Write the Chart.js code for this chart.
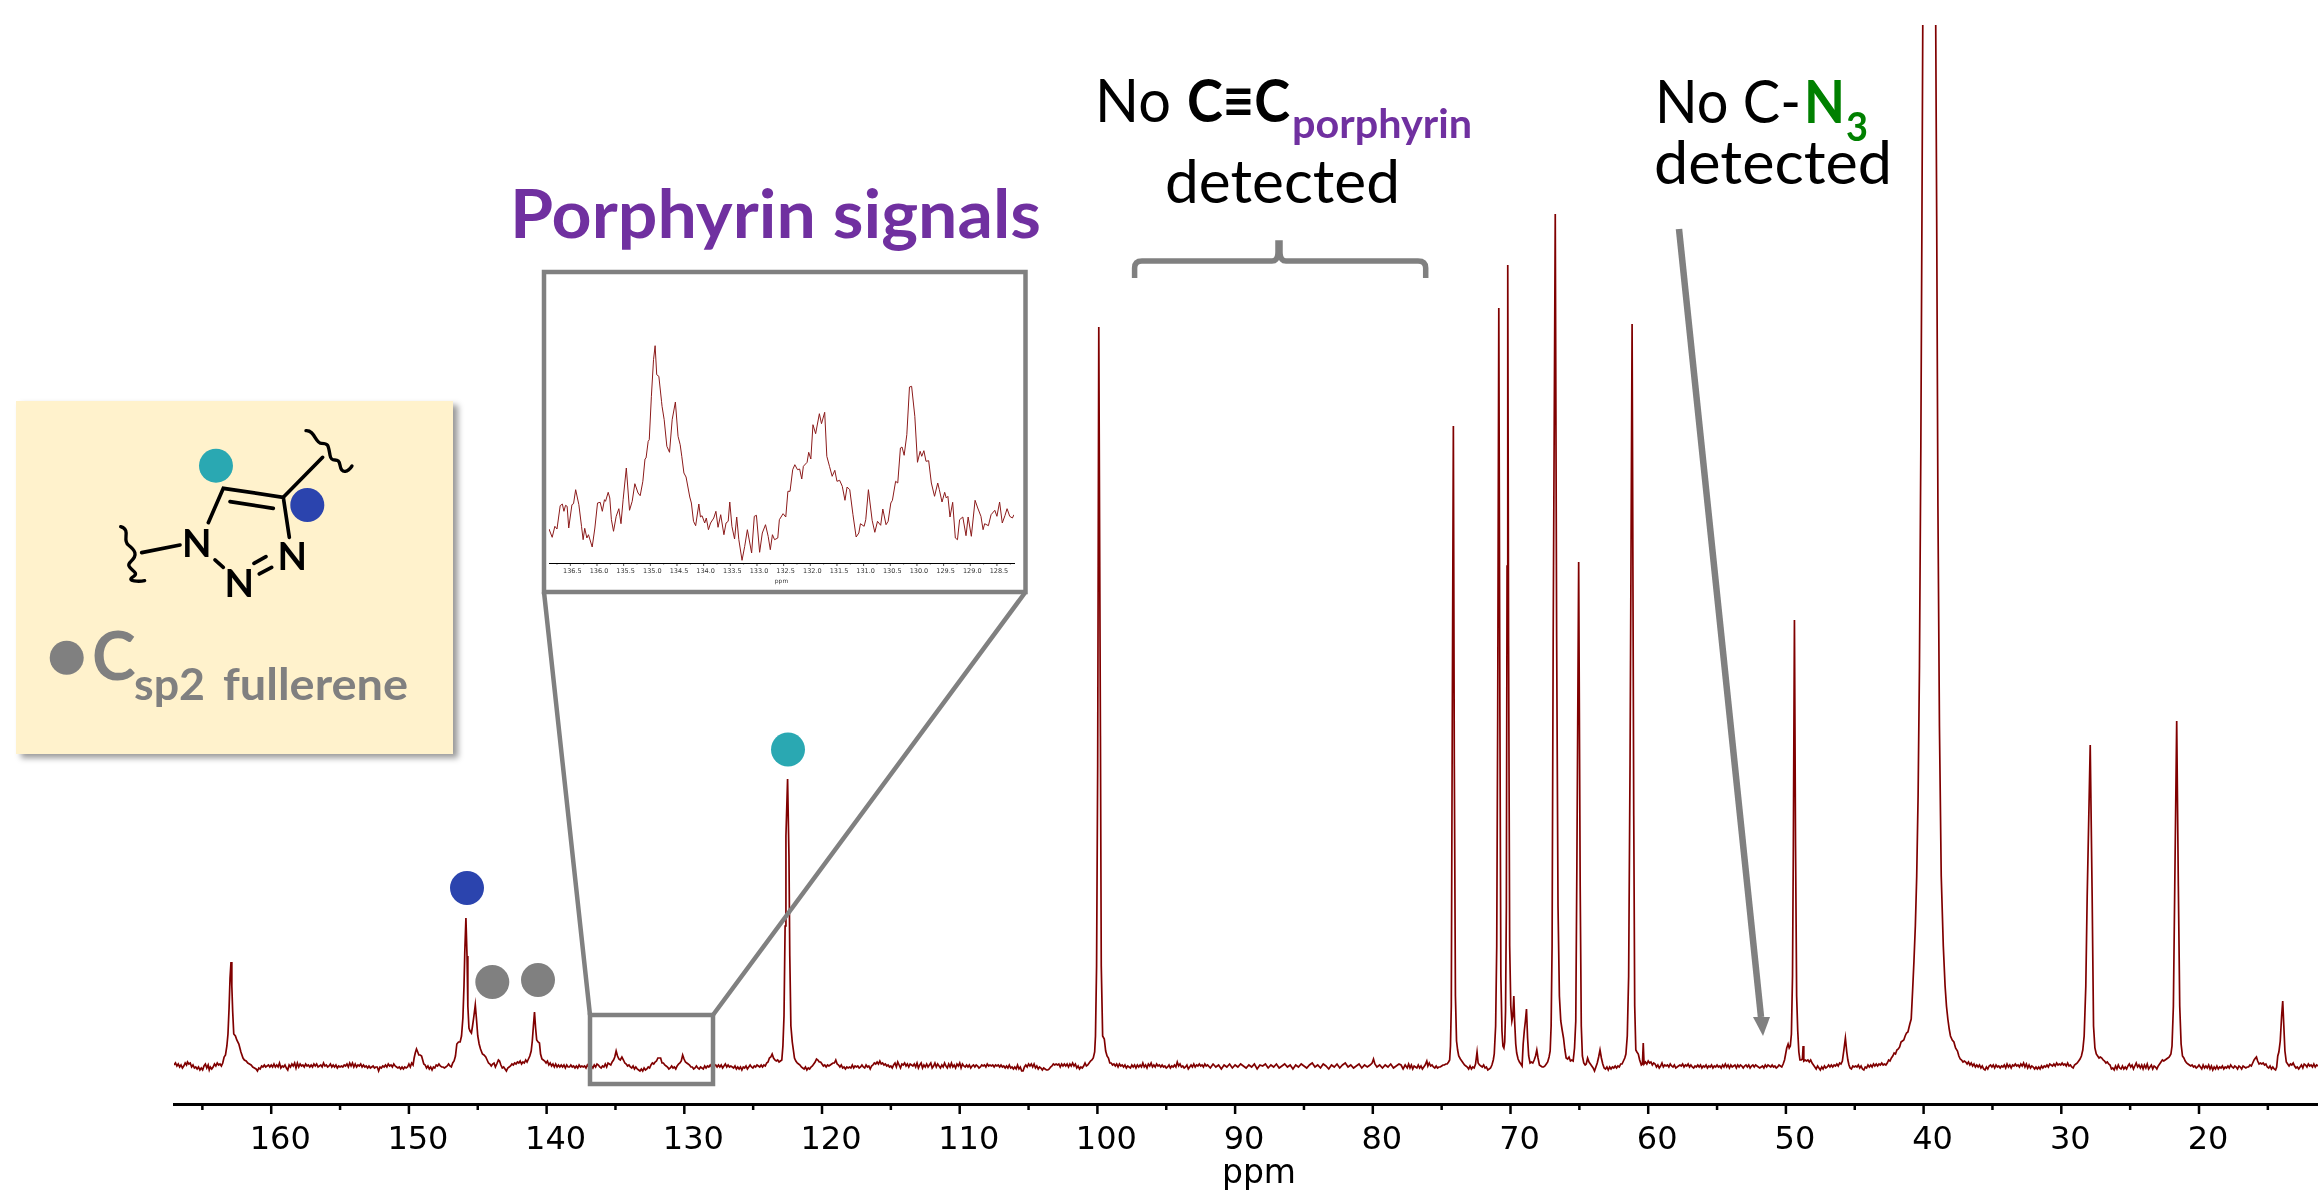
<!DOCTYPE html>
<html lang="en">
<head>
  <meta charset="UTF-8" />
  <title>13C NMR spectrum</title>
  <style>
    html, body { margin: 0; padding: 0; background: #fff; width: 2318px; height: 1194px; overflow: hidden; }
    #main { position: absolute; left: 0; top: 0; }
    #inset { position: absolute; left: 546px; top: 275px; }
    #notes { position: absolute; left: 0; top: 0; }
    #notes text { font-family: Lato, sans-serif; }
    #card { position: absolute; left: 16px; top: 401px; width: 437px; height: 353px; background: #fff2cc; box-shadow: 5px 4px 6px #9a9a9a; }
  </style>
  <script src="https://cdn.jsdelivr.net/npm/chart.js"></script>
</head>
<body>
  <div id="card"></div>
  <canvas id="main" width="2344" height="1194"></canvas>
  <svg id="notes" width="2318" height="1194" xmlns="http://www.w3.org/2000/svg">
    <!-- zoom box and its leaders -->
    <g fill="none" stroke="#808080">
      <rect x="544" y="272" width="481.5" height="320" stroke-width="4.5"/>
      <rect x="590" y="1015" width="123" height="69" stroke-width="4.5"/>
      <path d="M590 1015 L544 592 M713 1015 L1025.5 592" stroke-width="4.5"/>
      <path d="M1134.6 278 V268 Q1134.6 261 1142 261 H1272 Q1278 261 1278 252 V243 H1280 V252 Q1280 261 1286 261 H1418 Q1425.7 261 1425.7 268 V278" stroke-width="5.5"/>
      <path d="M1679 229 L1761 1017" stroke-width="6.5"/>
    </g>
    <path d="M1753 1017 L1770 1017 L1763 1036 Z" fill="#808080"/>
    <!-- peak markers -->
    <circle cx="467" cy="888" r="17" fill="#2b44ae"/>
    <circle cx="492.3" cy="982" r="17" fill="#808080"/>
    <circle cx="538" cy="980" r="17" fill="#808080"/>
    <circle cx="788" cy="749.5" r="17" fill="#2aa8b2"/>
    <!-- triazole sketch -->
    <g transform="translate(0,380) scale(0.3333)">
      <circle cx="648" cy="257" r="51" fill="#2aa8b2"/>
      <circle cx="922" cy="375" r="51" fill="#2b44ae"/>
      <g fill="none" stroke="#000" stroke-width="11" stroke-linecap="round">
        <path d="M625 428 L670 325 L850 352 L868 472"/>
        <path d="M690 365 L820 385"/>
        <path d="M645 540 L670 562"/>
        <path d="M762 550 L798 530 M778 582 L815 562"/>
        <path d="M425 518 L540 495"/>
        <path d="M850 352 L968 232"/>
        <path d="M362 440 C395 450 365 480 385 495 S415 525 392 545 S425 575 400 590 S420 605 434 602" stroke-width="10"/>
        <path d="M918 152 C945 150 945 190 965 190 S985 195 990 225 S1015 225 1020 255 S1045 275 1056 258" stroke-width="10"/>
      </g>
      <g font-size="115" font-weight="700" text-anchor="middle" fill="#000">
        <text x="590" y="530">N</text>
        <text x="718" y="652">N</text>
        <text x="877" y="570">N</text>
      </g>
    </g>
    <circle cx="66.7" cy="657.7" r="17" fill="#808080"/>
    <text x="92" y="680" font-size="66" font-weight="700" fill="#808080">C</text>
    <text x="134" y="700" font-size="43" font-weight="700" fill="#808080" textLength="71" lengthAdjust="spacingAndGlyphs">sp2</text>
    <text x="223" y="700" font-size="43" font-weight="700" fill="#808080" textLength="185" lengthAdjust="spacingAndGlyphs">fullerene</text>
    <!-- annotations -->
    <text x="510" y="238" font-size="66" font-weight="700" fill="#7030a0" textLength="531" lengthAdjust="spacingAndGlyphs">Porphyrin signals</text>
    <text x="1095" y="122" font-size="60" fill="#000" textLength="76" lengthAdjust="spacingAndGlyphs">No</text>
    <text x="1187" y="122" font-size="60" font-weight="700" fill="#000" textLength="103" lengthAdjust="spacingAndGlyphs">C≡C</text>
    <text x="1292" y="138" font-size="40" font-weight="700" fill="#7030a0" textLength="180" lengthAdjust="spacingAndGlyphs">porphyrin</text>
    <text x="1165" y="203" font-size="60" fill="#000" textLength="235" lengthAdjust="spacingAndGlyphs">detected</text>
    <text x="1655" y="123" font-size="60" fill="#000" textLength="146" lengthAdjust="spacingAndGlyphs">No C-</text>
    <text x="1804" y="123" font-size="60" font-weight="700" fill="#008000" textLength="41" lengthAdjust="spacingAndGlyphs">N</text>
    <text x="1846" y="141" font-size="40" font-weight="700" fill="#008000" textLength="22" lengthAdjust="spacingAndGlyphs">3</text>
    <text x="1654" y="184" font-size="60" fill="#000" textLength="238" lengthAdjust="spacingAndGlyphs">detected</text>
  </svg>
  <canvas id="inset" width="478" height="315"></canvas>

  <script>
    // [ppm, height above baseline]
    const band167to147 = [[167.06,1],[166.95,3],[166.85,0],[166.75,2],[166.65,-1],[166.55,1],[166.45,-2],[166.35,0],[166.25,3],[166.15,1],[166.08,4],[165.98,2],[165.88,3],[165.78,-1],[165.68,1],[165.58,-2],[165.48,-1],[165.38,-3],[165.28,-1],[165.18,-4],[165.08,-2],[164.98,-4],[164.88,0],[164.78,2],[164.68,-2],[164.58,1],[164.5,-4],[164.42,-1],[164.32,-3],[164.22,-1],[164.12,2],[164.02,0],[163.92,3],[163.82,1],[163.72,2],[163.62,0],[163.52,3],[163.42,9],[163.32,11],[163.22,20],[163.14,32],[163.06,58],[162.99,88],[162.92,104],[162.86,80],[162.8,55],[162.72,32],[162.6,30],[162.5,26],[162.35,22],[162.2,14],[162.05,8],[161.95,6],[161.82,5],[161.7,3],[161.58,2],[161.46,1],[161.34,-1],[161.22,-2],[161.1,-3],[161.0,-5],[160.9,-2],[160.8,-3],[160.7,0],[160.6,-1],[160.5,1],[160.4,-1],[160.3,0],[160.2,1],[160.1,-1],[160.0,1],[159.9,-1],[159.8,2],[159.7,-1],[159.6,1],[159.5,-1],[159.4,3],[159.3,-2],[159.2,0],[159.1,-1],[159.0,1],[158.9,-2],[158.8,-4],[158.7,1],[158.6,-1],[158.5,2],[158.4,0],[158.3,3],[158.2,-2],[158.1,3],[158.0,-1],[157.9,2],[157.8,0],[157.7,1],[157.6,-1],[157.5,2],[157.4,0],[157.3,1],[157.2,-1],[157.1,1],[157.0,-1],[156.9,2],[156.8,0],[156.7,2],[156.6,-1],[156.5,0],[156.4,1],[156.3,-1],[156.2,3],[156.1,0],[156.0,1],[155.9,-1],[155.8,0],[155.7,2],[155.6,-1],[155.5,1],[155.4,-1],[155.3,1],[155.2,-2],[155.1,0],[155.0,-1],[154.9,0],[154.8,-1],[154.7,1],[154.6,0],[154.5,2],[154.4,-1],[154.3,3],[154.2,0],[154.1,3],[154.0,-1],[153.9,2],[153.8,-1],[153.7,1],[153.6,0],[153.5,2],[153.4,-1],[153.3,1],[153.2,-1],[153.1,0],[153.0,-2],[152.9,0],[152.8,-2],[152.7,-1],[152.6,0],[152.5,-2],[152.4,-1],[152.3,-1],[152.2,-5],[152.1,-1],[152.0,-2],[151.9,0],[151.8,-1],[151.7,1],[151.6,-1],[151.5,2],[151.4,0],[151.3,1],[151.2,-1],[151.1,2],[151.0,0],[150.9,-1],[150.8,-2],[150.7,-1],[150.6,-3],[150.5,-1],[150.4,-3],[150.3,-1],[150.2,-2],[150.1,-1],[150.0,2],[149.9,-1],[149.8,3],[149.7,1],[149.62,8],[149.54,13],[149.45,17],[149.36,14],[149.28,11],[149.18,11],[149.08,10],[149.0,6],[148.92,2],[148.82,1],[148.72,-2],[148.62,0],[148.52,-3],[148.42,-1],[148.32,-4],[148.22,-1],[148.12,-2],[148.02,1],[147.92,0],[147.82,2],[147.72,0],[147.62,-1],[147.52,-1]];
    const band147to128 = [[147.42,-2],[147.32,-1],[147.22,0],[147.12,2],[147.02,0],[146.92,-1],[146.82,3],[146.72,5],[146.62,10],[146.52,22],[146.4,24],[146.28,24],[146.18,30],[146.08,48],[146.0,80],[145.94,115],[145.86,148],[145.78,110],[145.72,60],[145.64,38],[145.56,35],[145.46,33],[145.38,40],[145.28,50],[145.18,61],[145.1,48],[145.0,30],[144.9,22],[144.8,17],[144.66,12],[144.55,11],[144.42,9],[144.32,6],[144.22,3],[144.12,2],[144.02,0],[143.92,2],[143.82,3],[143.72,-1],[143.62,2],[143.5,6],[143.42,5],[143.32,1],[143.22,-2],[143.12,-1],[143.02,-3],[142.92,-5],[142.82,-2],[142.72,-1],[142.62,0],[142.52,2],[142.42,1],[142.32,3],[142.22,2],[142.12,4],[142.02,3],[141.92,5],[141.82,2],[141.72,4],[141.62,3],[141.52,6],[141.42,4],[141.32,7],[141.22,10],[141.12,15],[141.04,25],[140.96,40],[140.88,54],[140.8,38],[140.72,26],[140.62,24],[140.52,23],[140.44,12],[140.34,7],[140.24,6],[140.14,5],[140.04,3],[139.94,5],[139.84,1],[139.74,3],[139.64,0],[139.54,2],[139.44,-1],[139.34,2],[139.24,-1],[139.14,1],[139.04,-1],[138.94,1],[138.84,-1],[138.74,1],[138.64,-2],[138.54,1],[138.44,-1],[138.34,-1],[138.24,1],[138.14,-1],[138.04,0],[137.94,-2],[137.84,0],[137.74,-2],[137.64,1],[137.54,-1],[137.44,0],[137.34,-1],[137.24,0],[137.14,-2],[137.04,1],[136.94,-1],[136.84,-2],[136.74,0],[136.64,-2],[136.54,1],[136.44,-1],[136.34,2],[136.24,1],[136.14,-1],[136.04,-2],[135.94,0],[135.84,-1],[135.74,2],[135.64,-1],[135.54,3],[135.44,2],[135.34,1],[135.24,4],[135.14,6],[135.05,9],[134.95,15],[134.85,10],[134.75,7],[134.65,6],[134.53,9],[134.42,6],[134.32,3],[134.22,2],[134.12,0],[134.02,1],[133.92,-1],[133.82,-2],[133.72,0],[133.62,-3],[133.52,-1],[133.42,-3],[133.32,-4],[133.22,-5],[133.12,-3],[133.02,-5],[132.92,-2],[132.82,-4],[132.72,-3],[132.62,-1],[132.52,-2],[132.42,1],[132.32,3],[132.22,2],[132.12,4],[132.02,5],[131.92,8],[131.82,8],[131.72,8],[131.62,3],[131.52,3],[131.42,1],[131.32,0],[131.22,-1],[131.12,-3],[131.02,-2],[130.92,0],[130.82,-2],[130.72,-1],[130.62,-3],[130.52,0],[130.42,2],[130.32,3],[130.22,5],[130.12,11],[130.02,7],[129.92,4],[129.82,3],[129.72,2],[129.62,1],[129.52,-1],[129.42,-1],[129.32,-3],[129.22,-2],[129.12,0],[129.02,-2],[128.92,-3],[128.82,-1],[128.72,-2],[128.62,-3],[128.52,0],[128.42,-2],[128.32,0],[128.22,-1],[128.12,1],[128.02,-1]];
    const band128to100 = [[127.92,-2],[127.82,0],[127.72,1],[127.62,-1],[127.52,1],[127.42,-1],[127.32,1],[127.22,-2],[127.12,0],[127.02,2],[126.92,-1],[126.82,1],[126.72,-1],[126.62,0],[126.52,-1],[126.42,-2],[126.32,0],[126.22,-3],[126.12,-1],[126.02,-3],[125.92,-1],[125.82,-4],[125.72,-1],[125.62,-2],[125.52,0],[125.42,-3],[125.32,-1],[125.22,1],[125.12,-1],[125.02,-2],[124.92,0],[124.82,-1],[124.72,1],[124.62,0],[124.52,-1],[124.42,1],[124.32,-1],[124.22,1],[124.12,0],[124.02,3],[123.92,4],[123.82,8],[123.72,9],[123.62,12],[123.52,8],[123.42,6],[123.32,5],[123.22,6],[123.12,4],[123.02,5],[122.92,6],[122.84,20],[122.76,50],[122.68,140],[122.62,230],[122.5,287],[122.4,210],[122.34,110],[122.26,40],[122.16,24],[122.08,16],[122.0,8],[121.9,5],[121.8,3],[121.7,2],[121.6,1],[121.5,-1],[121.4,-2],[121.3,-3],[121.2,-1],[121.1,-4],[121.0,-2],[120.9,-3],[120.8,-1],[120.7,0],[120.6,2],[120.5,4],[120.4,7],[120.3,6],[120.2,4],[120.1,4],[120.0,2],[119.9,0],[119.8,1],[119.7,-1],[119.6,1],[119.5,0],[119.4,1],[119.3,2],[119.2,3],[119.1,3],[119.0,6],[118.9,2],[118.8,1],[118.7,-1],[118.6,1],[118.5,-2],[118.4,-1],[118.3,-3],[118.2,-1],[118.1,-2],[118.0,-1],[117.9,-2],[117.8,1],[117.7,-2],[117.6,0],[117.5,-1],[117.4,0],[117.3,-2],[117.2,-1],[117.1,1],[117.0,-1],[116.9,-2],[116.8,1],[116.7,-1],[116.6,0],[116.5,-3],[116.4,0],[116.3,1],[116.2,3],[116.1,2],[116.0,4],[115.9,2],[115.8,5],[115.7,2],[115.6,3],[115.5,1],[115.4,2],[115.3,0],[115.2,1],[115.1,-1],[115.0,0],[114.9,-2],[114.8,1],[114.7,3],[114.6,-1],[114.5,4],[114.4,1],[114.3,-2],[114.2,2],[114.1,1],[114.0,3],[113.9,0],[113.8,2],[113.7,-1],[113.6,2],[113.5,1],[113.4,0],[113.3,2],[113.2,-1],[113.1,3],[113.0,-2],[112.9,1],[112.8,3],[112.7,-2],[112.6,1],[112.5,-1],[112.4,2],[112.3,-1],[112.2,1],[112.1,3],[112.0,-2],[111.9,0],[111.8,3],[111.7,-1],[111.6,2],[111.5,0],[111.4,-2],[111.3,1],[111.2,-1],[111.1,3],[111.0,0],[110.9,-2],[110.8,2],[110.7,-1],[110.6,3],[110.5,-1],[110.4,1],[110.3,-2],[110.2,2],[110.1,0],[110.0,3],[109.9,-2],[109.8,2],[109.7,0],[109.6,-1],[109.5,1],[109.4,-1],[109.3,1],[109.2,-2],[109.1,0],[109.0,1],[108.9,-1],[108.8,1],[108.7,0],[108.6,-2],[108.5,-1],[108.4,1],[108.3,0],[108.2,1],[108.1,-1],[108.0,2],[107.9,0],[107.8,1],[107.7,0],[107.6,1],[107.5,-1],[107.4,1],[107.3,0],[107.2,1],[107.1,-1],[107.0,1],[106.9,-1],[106.8,0],[106.7,-2],[106.6,0],[106.5,-2],[106.4,1],[106.3,-2],[106.2,-1],[106.1,-3],[106.0,-1],[105.9,-3],[105.8,1],[105.7,-3],[105.6,-1],[105.5,-5],[105.4,-5],[105.3,-1],[105.2,1],[105.1,-1],[105.0,2],[104.9,0],[104.8,2],[104.7,-1],[104.6,2],[104.5,-2],[104.4,0],[104.3,-3],[104.2,-1],[104.1,-2],[104.0,-4],[103.9,-2],[103.8,-3],[103.7,-4],[103.6,-4],[103.5,-3],[103.4,-1],[103.3,0],[103.2,2],[103.1,1],[103.0,2],[102.9,1],[102.8,2],[102.7,-1],[102.6,2],[102.5,0],[102.4,2],[102.3,0],[102.2,2],[102.1,-1],[102.0,2],[101.9,0],[101.8,3],[101.7,0],[101.6,2],[101.5,-2],[101.4,0],[101.3,-3],[101.2,-1],[101.1,-2],[101.0,0],[100.9,3],[100.8,0],[100.7,1],[100.6,3],[100.5,5],[100.4,6],[100.3,8],[100.2,14],[100.14,30],[100.06,100],[99.98,300],[99.9,739],[99.78,330],[99.72,100],[99.62,30],[99.5,27],[99.4,15],[99.3,10],[99.2,8],[99.1,3],[99.0,3],[98.9,1],[98.8,2],[98.7,0]];
    const band100to76 = [[98.6,2],[98.5,-1],[98.4,2],[98.3,0],[98.2,1],[98.1,-1],[98.0,1],[97.9,-2],[97.8,0],[97.7,-1],[97.6,-2],[97.5,1],[97.4,-1],[97.3,1],[97.2,-2],[97.1,1],[97.0,-1],[96.9,1],[96.8,-1],[96.7,3],[96.6,-1],[96.5,1],[96.4,-2],[96.3,2],[96.2,0],[96.1,3],[96.0,-1],[95.9,1],[95.8,-1],[95.7,2],[95.6,0],[95.5,1],[95.4,-1],[95.3,1],[95.2,-1],[95.1,0],[95.0,-2],[94.9,-1],[94.8,1],[94.7,-2],[94.6,0],[94.5,-1],[94.4,1],[94.3,-1],[94.2,4],[94.1,0],[94.0,2],[93.9,-1],[93.8,0],[93.7,-2],[93.6,-1],[93.5,1],[93.4,-3],[93.3,-1],[93.2,1],[93.1,-1],[93.0,2],[92.9,-1],[92.8,1],[92.7,0],[92.6,2],[92.5,0],[92.4,1],[92.3,-1],[92.2,2],[92.1,0],[92.0,1],[91.8,-2],[91.6,2],[91.4,-1],[91.2,1],[91.0,-3],[90.8,1],[90.6,-1],[90.4,2],[90.2,-2],[90.0,1],[89.8,-1],[89.6,2],[89.4,0],[89.2,-2],[89.0,1],[88.8,-1],[88.6,2],[88.4,-3],[88.2,1],[88.0,0],[87.8,2],[87.6,-2],[87.4,1],[87.2,-1],[87.0,2],[86.8,-2],[86.6,0],[86.4,2],[86.2,-1],[86.0,1],[85.8,-3],[85.6,1],[85.4,-1],[85.2,2],[85.0,0],[84.8,-2],[84.6,1],[84.4,3],[84.2,-1],[84.0,1],[83.8,-2],[83.6,2],[83.4,0],[83.2,-3],[83.0,1],[82.8,-1],[82.6,2],[82.4,-2],[82.2,1],[82.0,3],[81.8,-1],[81.6,1],[81.4,-2],[81.2,0],[81.0,2],[80.8,-2],[80.6,1],[80.4,-1],[80.2,1],[80.05,3],[79.95,7],[79.85,2],[79.7,-1],[79.5,1],[79.3,-2],[79.1,1],[78.9,-1],[78.7,2],[78.5,-2],[78.3,0],[78.1,2],[77.95,1],[77.8,-3],[77.65,1],[77.5,-2],[77.4,2],[77.3,-2],[77.2,1],[77.1,-3],[77.0,0],[76.9,-1],[76.8,-2],[76.7,1],[76.6,-2],[76.5,0],[76.4,-3],[76.3,-1],[76.2,1],[76.08,5],[76.0,0],[75.9,3],[75.8,0],[75.7,1],[75.6,-1]];
    const band76to60 = [[75.5,-2],[75.4,0],[75.3,-2],[75.2,-1],[75.1,-1],[75.0,0],[74.9,1],[74.8,1],[74.7,2],[74.6,2],[74.5,4],[74.42,6],[74.36,20],[74.3,60],[74.24,300],[74.15,640],[74.08,300],[74.0,70],[73.92,25],[73.84,16],[73.76,10],[73.64,7],[73.54,5],[73.44,3],[73.34,1],[73.24,0],[73.14,-1],[73.04,-3],[72.94,0],[72.84,-3],[72.74,-1],[72.64,-2],[72.54,2],[72.43,14],[72.35,3],[72.25,1],[72.15,0],[72.05,-1],[71.95,1],[71.85,-2],[71.75,-1],[71.65,-4],[71.55,-3],[71.45,-2],[71.35,1],[71.25,6],[71.18,12],[71.08,40],[71.0,120],[70.93,350],[70.85,758],[70.77,350],[70.7,90],[70.62,35],[70.55,20],[70.48,18],[70.42,24],[70.36,55],[70.3,160],[70.25,500],[70.2,801],[70.14,420],[70.06,120],[69.98,60],[69.9,45],[69.83,50],[69.76,70],[69.7,45],[69.62,22],[69.55,13],[69.45,7],[69.35,4],[69.25,2],[69.16,0],[69.08,22],[69.0,35],[68.92,45],[68.84,57],[68.76,28],[68.68,10],[68.58,3],[68.48,4],[68.38,3],[68.28,6],[68.18,10],[68.09,16],[68.0,8],[67.9,1],[67.8,0],[67.7,-1],[67.6,-1],[67.5,0],[67.4,2],[67.3,4],[67.2,9],[67.12,15],[67.05,40],[66.98,120],[66.9,430],[66.75,852],[66.65,430],[66.55,160],[66.45,70],[66.35,45],[66.25,36],[66.15,28],[66.05,16],[65.96,8],[65.85,7],[65.75,9],[65.65,5],[65.55,6],[65.45,5],[65.35,18],[65.26,45],[65.18,200],[65.05,504],[64.94,180],[64.86,40],[64.78,10],[64.68,3],[64.58,1],[64.5,2],[64.4,8],[64.3,4],[64.2,2],[64.1,0],[64.0,-2],[63.9,-5],[63.8,-1],[63.7,3],[63.6,9],[63.5,16],[63.4,8],[63.3,2],[63.2,-2],[63.1,-3],[63.0,-1],[62.9,-4],[62.8,-1],[62.7,-3],[62.6,-1],[62.5,-2],[62.4,0],[62.3,-2],[62.2,0],[62.1,-1],[62.0,2],[61.9,2],[61.8,5],[61.7,8],[61.62,12],[61.52,30],[61.42,90],[61.32,300],[61.17,742],[61.05,250],[60.98,60],[60.9,16],[60.82,14],[60.72,12],[60.62,6],[60.5,1],[60.42,2],[60.36,23],[60.3,2]];
    const band60to50 = [[60.2,4],[60.1,2],[60.0,5],[59.9,3],[59.8,4],[59.7,1],[59.6,3],[59.5,2],[59.4,-1],[59.3,1],[59.2,-2],[59.1,0],[59.0,3],[58.9,-1],[58.8,1],[58.7,0],[58.6,1],[58.5,-1],[58.4,2],[58.3,0],[58.2,-1],[58.1,1],[58.0,-2],[57.9,-1],[57.8,0],[57.7,1],[57.6,0],[57.5,2],[57.4,-1],[57.3,1],[57.2,0],[57.1,2],[57.0,-1],[56.9,1],[56.8,-1],[56.7,-2],[56.6,0],[56.5,-1],[56.4,1],[56.3,-1],[56.2,1],[56.1,-2],[56.0,0],[55.9,-1],[55.8,1],[55.7,-2],[55.6,0],[55.5,-1],[55.4,1],[55.3,-2],[55.2,0],[55.1,-1],[55.0,1],[54.9,-1],[54.8,0],[54.7,-2],[54.6,1],[54.5,-1],[54.4,2],[54.3,-1],[54.2,1],[54.1,-2],[54.0,1],[53.9,-1],[53.8,0],[53.7,1],[53.6,-2],[53.5,1],[53.4,-1],[53.3,1],[53.2,0],[53.1,-2],[53.0,0],[52.9,1],[52.8,-1],[52.7,1],[52.6,-2],[52.5,0],[52.4,1],[52.3,-1],[52.2,1],[52.1,0],[52.0,-1],[51.9,-2],[51.8,-1],[51.7,0],[51.6,-2],[51.5,1],[51.4,-1],[51.3,1],[51.2,0],[51.1,-1],[51.0,1],[50.9,-1],[50.8,0],[50.7,-2],[50.6,-1],[50.5,1],[50.4,0],[50.3,-1]];
    const band50to41 = [[50.2,2],[50.1,6],[50.02,12],[49.94,18],[49.84,22],[49.76,18],[49.68,20],[49.6,32],[49.52,90],[49.46,220],[49.38,446],[49.3,220],[49.22,70],[49.14,35],[49.06,14],[48.98,6],[48.88,6],[48.8,7],[48.75,20],[48.7,5],[48.6,6],[48.5,5],[48.4,6],[48.3,4],[48.2,6],[48.1,3],[48.0,1],[47.9,-1],[47.8,-3],[47.7,0],[47.6,-2],[47.5,-4],[47.4,-1],[47.3,-3],[47.2,0],[47.1,-2],[47.0,-1],[46.9,1],[46.8,-1],[46.7,1],[46.6,-1],[46.5,1],[46.4,0],[46.3,2],[46.2,0],[46.1,3],[46.0,2],[45.9,5],[45.8,15],[45.68,28],[45.58,14],[45.5,6],[45.42,1],[45.34,-2],[45.24,-3],[45.14,0],[45.04,-1],[44.94,0],[44.84,-1],[44.74,1],[44.64,-2],[44.54,0],[44.44,-3],[44.34,-4],[44.24,-1],[44.14,-2],[44.04,1],[43.94,-1],[43.84,1],[43.74,-1],[43.64,2],[43.54,0],[43.44,2],[43.34,0],[43.24,2],[43.14,1],[43.04,3],[42.94,1],[42.84,2],[42.74,1],[42.64,3],[42.54,6],[42.44,5],[42.34,8],[42.24,10],[42.14,13],[42.04,12],[41.94,16],[41.84,17],[41.74,19],[41.64,24],[41.54,25],[41.44,26],[41.34,30],[41.24,33],[41.14,34]];
    const band41to29 = [[41.0,42],[40.9,47],[40.8,75],[40.7,105],[40.6,140],[40.5,190],[40.4,270],[40.3,400],[40.2,620],[40.12,850],[40.06,1042],[39.9,1250],[39.6,1400],[39.3,1250],[39.12,1042],[39.05,850],[38.96,560],[38.85,340],[38.72,190],[38.57,120],[38.44,80],[38.34,60],[38.24,47],[38.14,37],[38.05,30],[37.92,26],[37.8,24],[37.68,18],[37.54,15],[37.44,10],[37.34,7],[37.24,6],[37.14,4],[37.04,5],[36.94,4],[36.84,2],[36.74,4],[36.64,1],[36.54,3],[36.44,0],[36.34,2],[36.24,-1],[36.14,1],[36.04,-1],[35.94,1],[35.84,-2],[35.74,0],[35.64,-3],[35.54,-4],[35.44,-1],[35.34,-3],[35.24,0],[35.14,1],[35.04,-1],[34.94,1],[34.84,-2],[34.74,1],[34.64,-1],[34.54,0],[34.44,-2],[34.34,0],[34.24,-1],[34.14,1],[34.04,-2],[33.94,2],[33.84,-1],[33.74,1],[33.64,-2],[33.54,1],[33.44,0],[33.34,2],[33.24,0],[33.14,1],[33.04,-1],[32.94,2],[32.84,0],[32.74,3],[32.64,-1],[32.54,2],[32.44,-2],[32.34,1],[32.24,-2],[32.14,0],[32.04,-1],[31.94,-3],[31.84,-1],[31.74,-3],[31.64,-1],[31.54,-3],[31.44,0],[31.34,-2],[31.24,0],[31.14,-1],[31.04,1],[30.94,-1],[30.84,2],[30.74,1],[30.64,0],[30.54,2],[30.44,0],[30.34,3],[30.24,1],[30.14,2],[30.04,1],[29.94,3],[29.84,1],[29.74,2],[29.64,0],[29.54,3],[29.44,0],[29.34,1],[29.24,-1]];
    const band29to15 = [[29.14,-2],[29.04,1],[28.94,2],[28.84,3],[28.74,5],[28.64,7],[28.54,10],[28.44,16],[28.34,30],[28.22,80],[28.12,170],[27.9,321],[27.76,170],[27.66,40],[27.56,18],[27.46,12],[27.36,10],[27.26,8],[27.16,9],[27.06,8],[26.96,6],[26.86,5],[26.76,3],[26.66,4],[26.56,2],[26.46,1],[26.36,-3],[26.26,-2],[26.16,-4],[26.06,0],[25.96,-3],[25.86,1],[25.76,-2],[25.66,-3],[25.56,0],[25.46,-3],[25.36,-1],[25.26,-3],[25.16,0],[25.06,2],[24.96,-1],[24.86,1],[24.76,-3],[24.66,0],[24.56,3],[24.46,-1],[24.36,1],[24.26,-2],[24.16,1],[24.06,-3],[23.96,1],[23.86,-2],[23.76,2],[23.66,-3],[23.56,-1],[23.46,1],[23.36,-3],[23.26,0],[23.16,-1],[23.06,-3],[22.96,0],[22.86,2],[22.76,4],[22.66,6],[22.56,5],[22.46,6],[22.36,7],[22.26,8],[22.16,9],[22.04,12],[21.96,20],[21.86,60],[21.76,180],[21.62,345],[21.5,180],[21.4,60],[21.3,22],[21.2,10],[21.1,8],[21.0,5],[20.9,3],[20.8,2],[20.7,1],[20.6,0],[20.5,1],[20.4,-1],[20.3,0],[20.2,-2],[20.1,-1],[20.0,1],[19.9,-1],[19.8,-3],[19.7,1],[19.6,-2],[19.5,0],[19.4,-2],[19.3,1],[19.2,-3],[19.1,0],[19.0,-4],[18.9,-1],[18.8,-3],[18.7,0],[18.6,-3],[18.5,-1],[18.4,-2],[18.3,0],[18.2,-3],[18.1,-1],[18.0,-2],[17.9,0],[17.8,-2],[17.7,1],[17.6,-1],[17.5,-2],[17.4,0],[17.3,-1],[17.2,-3],[17.1,0],[17.0,-1],[16.9,-3],[16.8,0],[16.7,-1],[16.6,-2],[16.5,-1],[16.4,-1],[16.3,1],[16.2,0],[16.1,3],[16.0,6],[15.9,8],[15.83,9],[15.74,5],[15.64,2],[15.54,3],[15.44,2],[15.34,3]];
    const band15to11 = [[15.24,1],[15.14,2],[15.04,-1],[14.94,-2],[14.84,0],[14.74,-3],[14.64,-1],[14.54,-3],[14.44,-4],[14.36,-1],[14.28,10],[14.2,14],[14.1,25],[14.0,50],[13.92,65],[13.84,40],[13.76,15],[13.66,4],[13.56,2],[13.46,0],[13.36,2],[13.26,1],[13.16,3],[13.06,0],[12.96,-2],[12.86,-1],[12.76,-3],[12.66,-1],[12.56,1],[12.46,-2],[12.36,2],[12.26,1],[12.16,-1],[12.06,2],[11.96,0],[11.86,1],[11.76,-1],[11.66,2],[11.56,-1],[11.46,1],[11.36,0]];

    // zoomed part of the spectrum
    const insetPpm = [136.90,136.84,136.79,136.75,136.69,136.65,136.62,136.59,136.56,136.53,136.47,136.44,136.40,136.34,136.29,136.26,136.23,136.19,136.16,136.09,136.04,135.99,135.94,135.90,135.86,135.84,135.79,135.76,135.73,135.69,135.64,135.59,135.55,135.51,135.45,135.39,135.34,135.29,135.23,135.19,135.14,135.10,135.08,135.04,135.02,134.98,134.94,134.91,134.88,134.84,134.79,134.78,134.74,134.69,134.64,134.59,134.53,134.48,134.44,134.41,134.37,134.33,134.26,134.23,134.19,134.15,134.09,134.06,134.03,133.98,133.95,133.91,133.87,133.81,133.77,133.73,133.68,133.62,133.58,133.54,133.51,133.47,133.42,133.38,133.34,133.28,133.23,133.18,133.10,133.05,133.01,132.95,132.90,132.84,132.79,132.75,132.71,132.67,132.61,132.58,132.51,132.46,132.42,132.38,132.33,132.29,132.24,132.20,132.16,132.13,132.06,132.03,131.99,131.95,131.90,131.83,131.79,131.73,131.69,131.64,131.59,131.54,131.50,131.45,131.40,131.35,131.31,131.26,131.20,131.14,131.09,131.06,130.99,130.96,130.91,130.84,130.79,130.74,130.68,130.64,130.58,130.54,130.49,130.46,130.40,130.36,130.31,130.28,130.24,130.19,130.14,130.10,130.04,129.99,129.94,129.91,129.87,129.83,129.78,129.73,129.67,129.61,129.58,129.53,129.48,129.45,129.42,129.38,129.33,129.28,129.24,129.20,129.14,129.08,129.04,128.98,128.91,128.86,128.80,128.76,128.73,128.66,128.61,128.54,128.50,128.45,128.40,128.35,128.31,128.26,128.21,128.18];
    const insetHeight = [34,25.7,36.7,34,57.3,59,51.7,57.7,56.7,35,58.3,59.3,73.3,58.3,36.7,23.3,34.7,25,28.3,16,35,60,60.7,51.7,63.3,61.7,70.7,65,43.3,31.7,46.7,54.3,39.3,63.3,95,52.7,61.7,79.3,70,67.3,81.7,104,105,121.7,123.3,166.7,203.3,217.3,188.3,186.7,161.7,156.7,143.3,116.7,110.7,143.3,161,126.7,118.3,106.7,90,86,66,60,41.7,37.3,59,46,47.3,40,45,33.3,40,45,51.7,35.7,48.3,28.3,40,41.7,61,36.7,24,46,23.3,2.7,16.7,33.3,10,46.7,47.7,10.7,30,38.3,26.7,13.3,28.3,23.3,25,43.3,49.3,46,71.7,71.7,93.3,98.3,93.3,94,84,96.7,100.7,110.7,104,138.3,129.3,149.3,139.3,150.7,106.7,96.7,86.7,92.7,81.7,82.7,76.7,62.7,76,73.3,48.3,26,30,39.3,36.7,43.3,73.3,42.7,30.7,41.7,37.7,54,38.3,41.7,60,62.7,81.7,80,115,116,107.7,128.3,176,176.7,146.7,100.7,111.7,106.7,112.3,101.7,102.3,80,66.7,80,73.3,61,70.7,65,66.7,46,60.7,25,23.3,43.3,46,27.3,46,26.7,62.7,55,46.7,33.3,39.3,37.3,48.3,52.7,46.7,61,40,47.3,54.3,46.7,45,48.3];

    const spectrum = [].concat(band167to147, band147to128, band128to100, band100to76, band76to60, band60to50, band50to41, band41to29, band29to15, band15to11);
    const spectrumColor = '#800000';

    // ticks have two lengths, chart.js only gives one
    const twoLengthTicks = {
      id: 'twoLengthTicks',
      afterDraw(chart, args, opts) {
        const scale = chart.scales.x, ctx = chart.ctx;
        ctx.save();
        ctx.strokeStyle = '#000';
        ctx.lineWidth = opts.width;
        scale.ticks.forEach(t => {
          const x = scale.getPixelForValue(t.value);
          const len = opts.isMajor(t.value) ? opts.major : opts.minor;
          ctx.beginPath();
          ctx.moveTo(x, scale.top);
          ctx.lineTo(x, scale.top + len);
          ctx.stroke();
        });
        ctx.restore();
      }
    };

    new Chart(document.getElementById('main'), {
      type: 'line',
      data: {
        datasets: [{
          data: spectrum.map(p => ({ x: p[0], y: p[1] })),
          borderColor: spectrumColor,
          borderWidth: 1.7,
          pointRadius: 0,
          tension: 0
        }]
      },
      options: {
        responsive: false,
        animation: false,
        layout: { padding: { left: 174, top: 25, right: 0, bottom: 0 } },
        plugins: {
          legend: { display: false },
          tooltip: { enabled: false },
          twoLengthTicks: { major: 10, minor: 6, width: 2.5, isMajor: v => v % 10 === 0 }
        },
        scales: {
          x: {
            type: 'linear',
            reverse: true,
            min: 9.47,
            max: 167.06,
            // the tick labels must not pull the plot area in
            afterFit(scale) { scale.height = 90; scale.paddingLeft = 0; scale.paddingRight = 0; },
            border: { display: true, color: '#000', width: 3 },
            grid: { display: false },
            title: { display: true, text: 'ppm', color: '#000', font: { family: 'DejaVu Sans', size: 33 }, padding: { top: 0, bottom: 0 } },
            ticks: {
              stepSize: 5,
              includeBounds: false,
              autoSkip: false,
              maxRotation: 0,
              padding: 9,
              labelOffset: 9,
              color: '#000',
              font: { family: 'DejaVu Sans', size: 32 },
              callback: v => (v % 10 === 0 ? String(v) : '')
            }
          },
          y: { display: false, min: -38, max: 1041 }
        }
      },
      plugins: [twoLengthTicks]
    });

    new Chart(document.getElementById('inset'), {
      type: 'line',
      data: {
        datasets: [{
          data: insetPpm.map((p, i) => ({ x: p, y: insetHeight[i] })),
          borderColor: '#8b1a1a',
          borderWidth: 1,
          pointRadius: 0,
          tension: 0
        }]
      },
      options: {
        responsive: false,
        animation: false,
        layout: { padding: { left: 3, top: 0, right: 10, bottom: 0 } },
        plugins: {
          legend: { display: false },
          tooltip: { enabled: false },
          twoLengthTicks: { major: 3, minor: 1.5, width: 0.7, isMajor: v => Math.abs(v * 2 - Math.round(v * 2)) < 1e-6 }
        },
        scales: {
          x: {
            type: 'linear',
            reverse: true,
            min: 128.18,
            max: 136.9,
            afterFit(scale) { scale.height = 27; scale.paddingLeft = 0; scale.paddingRight = 0; },
            border: { display: true, color: '#000', width: 1 },
            grid: { display: false, tickLength: 1 },
            title: { display: true, text: 'ppm', color: '#333', font: { family: 'DejaVu Sans', size: 6 }, padding: { top: 0, bottom: 5 } },
            ticks: {
              stepSize: 0.25,
              includeBounds: false,
              autoSkip: false,
              maxRotation: 0,
              padding: 3,
              labelOffset: 2,
              color: '#333',
              font: { family: 'DejaVu Sans', size: 6.5 },
              callback: v => (Math.abs(v * 2 - Math.round(v * 2)) < 1e-6 ? v.toFixed(1) : '')
            }
          },
          y: { display: false, min: 0, max: 288 }
        }
      },
      plugins: [twoLengthTicks]
    });
  </script>
</body>
</html>
